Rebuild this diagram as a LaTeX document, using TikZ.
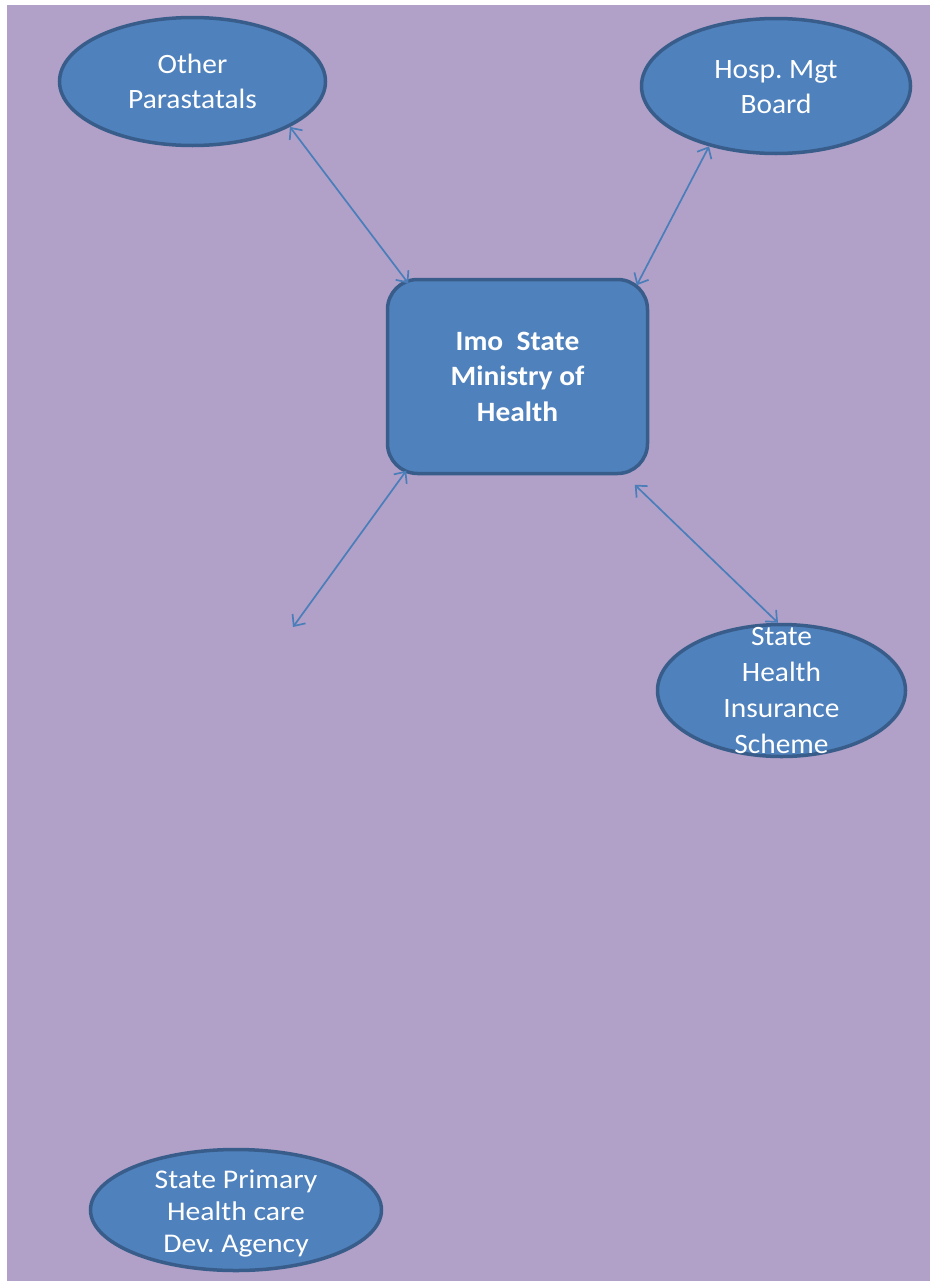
\documentclass[tikz,border=0pt]{standalone}
\usepackage{fontspec}
\setmainfont{Carlito}[FakeStretch=1.05]
\newfontfamily\agencyfont{Carlito}[FakeStretch=1.1]
\usetikzlibrary{arrows.meta,calc,shapes.geometric}
\definecolor{bgpurple}{RGB}{177,160,199}
\definecolor{nodeblue}{RGB}{79,129,189}
\definecolor{nodeedge}{RGB}{56,93,138}
\definecolor{arrowblue}{RGB}{74,126,187}
\frenchspacing
\begin{document}
\begin{tikzpicture}[x=1pt,y=-1pt,
  bubble/.style={ellipse, draw=nodeedge, line width=3.5pt, fill=nodeblue, inner sep=0pt},
  bubbletext/.style={text=white, font=\fontsize{28}{35}\selectfont, align=center},
  minbox/.style={rectangle, rounded corners=30pt, draw=nodeedge, line width=3.5pt, fill=nodeblue, inner sep=0pt, text=white, font=\bfseries\fontsize{28}{35.5}\selectfont, align=center},
  link/.style={draw=arrowblue, line width=1.7pt, {Straight Barb[length=9pt,width=16pt]}-{Straight Barb[length=9pt,width=16pt]}}
]
\useasboundingbox (0,0) rectangle (931,1282);
\fill[white] (0,0) rectangle (931,1282);
\fill[bgpurple] (7,5) rectangle (930,1281);

\node[bubble, minimum width=266pt, minimum height=128pt,
  label={[bubbletext]center:{Other\\Parastatals}}] (op) at (192.5,81.5) {};
\node[bubble, minimum width=269pt, minimum height=135pt,
  label={[bubbletext, yshift=-1pt]center:{Hosp. Mgt\\Board}}] (hmb) at (776,86) {};
\node[minbox, minimum width=260pt, minimum height=194pt] (min) at (517.5,376.5) {Imo\ \ State\\Ministry of\\Health};
\node[bubble, minimum width=248pt, minimum height=132pt,
  label={[bubbletext, font=\fontsize{28}{36}\selectfont]center:{State\\Health\\Insurance\\Scheme}}] (shis) at (781.5,690.5) {};
\node[bubble, minimum width=291pt, minimum height=121pt,
  label={[bubbletext, yshift=-4pt, font=\agencyfont\fontsize{27}{32}\selectfont]center:{State Primary\\Health care\\Dev. Agency}}] (sphc) at (236,1210) {};
\coordinate (free) at (293,627);

\draw[link] (op.-25) -- ($(min.north west)+(22.5,5.5)$);
\draw[link] (hmb.222) -- ($(min.north east)+(-12.5,7.5)$);
\draw[link] ($(min.south west)+(20.5,-4.5)$) -- (free);
\draw[link] ($(min.south east)+(-14.5,9.5)$) -- (shis.93);
\end{tikzpicture}
\end{document}
